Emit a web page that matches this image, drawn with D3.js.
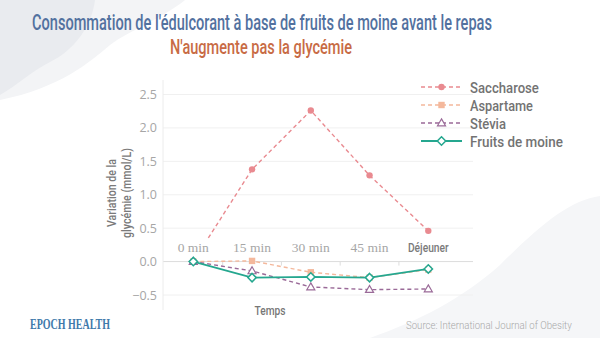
<!DOCTYPE html>
<html><head><meta charset="utf-8">
<script src="https://cdn.jsdelivr.net/npm/d3@7"></script>
<style>
html,body{margin:0;padding:0;background:#fff;}
svg{display:block;}
</style></head>
<body>
<svg id="c" width="600" height="338"></svg>
<script>
const categories = ["0 min", "15 min", "30 min", "45 min", "Déjeuner"];
const saccharose = [0, 1.38, 2.26, 1.29, 0.46];
const aspartame = [0, 0.01, -0.16, -0.24, -0.12];
const stevia = [0, -0.14, -0.38, -0.42, -0.41];
const fruitsMoine = [0, -0.24, -0.23, -0.24, -0.11];
const yTicks = [-0.5, 0.0, 0.5, 1.0, 1.5, 2.0, 2.5];
const seriesNames = ["Saccharose", "Aspartame", "Stévia", "Fruits de moine"];

const series = [
  {name: seriesNames[0], values: saccharose, color: "#e98a90", dash: "4,3", marker: "circle"},
  {name: seriesNames[1], values: aspartame, color: "#f4b89c", dash: "4,3", marker: "square"},
  {name: seriesNames[2], values: stevia, color: "#9a6a98", dash: "4,3", marker: "triangle"},
  {name: seriesNames[3], values: fruitsMoine, color: "#25a78f", dash: null, marker: "diamond"}
];

const svg = d3.select("#c");
const condensed = "'Roboto', 'DejaVu Sans Condensed', sans-serif";

function fitWidth(sel, cx, cy, target, rotate) {
  sel.each(function() {
    const w = this.getComputedTextLength();
    const k = target / w;
    d3.select(this).attr("transform",
      `translate(${cx},${cy})` + (rotate ? ` rotate(${rotate})` : "") + ` scale(${k},1)`);
  });
  return sel;
}
function squeeze(sel, cx, cy, factor, rotate) {
  sel.each(function() {
    const w = this.getComputedTextLength();
    fitWidth(d3.select(this), cx, cy, w * factor, rotate);
  });
  return sel;
}

// background blobs
svg.append("path").attr("d", "M0,0 L185,0 C160,20 130,30 110,45 C90,62 60,88 0,100 Z").attr("fill", "#f3f4f6");
svg.append("path").attr("d", "M0,0 L95,0 C92,25 75,50 50,62 C30,72 18,85 0,95 Z").attr("fill", "#e9ebef");
svg.append("path").attr("d", "M370,338 C420,320 460,300 500,265 C540,225 570,200 600,196 L600,338 Z").attr("fill", "#f5f6f8");

// titles
fitWidth(svg.append("text").attr("text-anchor", "middle")
  .attr("font-family", condensed).attr("font-size", 22).attr("font-weight", 500)
  .attr("fill", "#52719f")
  .text("Consommation de l'édulcorant à base de fruits de moine avant le repas"), 262, 30, 460);
fitWidth(svg.append("text").attr("text-anchor", "middle")
  .attr("font-family", condensed).attr("font-size", 19.5).attr("font-weight", 500)
  .attr("fill", "#c86b45")
  .text("N'augmente pas la glycémie"), 261, 54, 182);

const x = d3.scalePoint().domain(categories).range([193.3, 428.3]);
const y = d3.scaleLinear().domain([-0.5, 2.5]).range([295, 94.5]);
const plotLeft = 163, plotRight = 473;

// gridlines
svg.append("g").selectAll("line").data(yTicks).join("line")
  .attr("x1", plotLeft).attr("x2", plotRight)
  .attr("y1", d => y(d)).attr("y2", d => y(d))
  .attr("stroke", d => d === 0 ? "#dcdcdc" : "#f0f0f0").attr("stroke-width", 1);

// left axis line
svg.append("line").attr("x1", plotLeft).attr("x2", plotLeft).attr("y1", 80).attr("y2", 310)
  .attr("stroke", "#ececec");

// y tick labels
svg.append("g").selectAll("text").data(yTicks).join("text")
  .attr("x", 157).attr("y", d => y(d) + 4.5).attr("text-anchor", "end")
  .attr("font-family", "'Open Sans', sans-serif").attr("font-size", 12.5)
  .attr("fill", "#a6a6a6").text(d => d3.format(".1f")(d));

// small ticks at band boundaries on zero line
const step = x.step();
svg.append("g").selectAll("line").data(categories.slice(0, -1)).join("line")
  .attr("x1", d => x(d) + step / 2).attr("x2", d => x(d) + step / 2)
  .attr("y1", y(0)).attr("y2", y(0) + 4).attr("stroke", "#dddddd");

// y axis title
squeeze(svg.append("text")
  .attr("text-anchor", "middle").attr("font-family", condensed).attr("font-size", 12.5)
  .attr("font-weight", 500).attr("fill", "#7a7a7a").text("Variation de la"), 116, 193, 0.85, -90);
squeeze(svg.append("text")
  .attr("text-anchor", "middle").attr("font-family", condensed).attr("font-size", 12.5)
  .attr("font-weight", 500).attr("fill", "#7a7a7a").text("glycémie (mmol/L)"), 131, 193, 0.85, -90);

// x axis title
squeeze(svg.append("text").attr("text-anchor", "middle")
  .attr("font-family", condensed).attr("font-size", 12).attr("font-weight", 500)
  .attr("fill", "#777").text("Temps"), 270, 315, 0.85);

// markers
function drawMarker(g, type, color, cx, cy) {
  if (type === "circle") {
    g.append("circle").attr("cx", cx).attr("cy", cy).attr("r", 3.2).attr("fill", color);
  } else if (type === "square") {
    g.append("rect").attr("x", cx - 3.2).attr("y", cy - 3.2).attr("width", 6.4).attr("height", 6.4).attr("fill", color);
  } else if (type === "triangle") {
    g.append("path").attr("d", d3.symbol(d3.symbolTriangle, 28)()).attr("transform", `translate(${cx},${cy + 0.5})`)
      .attr("fill", "#fff").attr("stroke", color).attr("stroke-width", 1.2);
  } else {
    g.append("path").attr("d", `M0,-4.2L4.2,0L0,4.2L-4.2,0Z`).attr("transform", `translate(${cx},${cy})`)
      .attr("fill", "#fff").attr("stroke", color).attr("stroke-width", 1.5);
  }
}

const line = d3.line().x((d, i) => x(categories[i])).y(d => y(d));
const markerLayer = [];
// draw order: aspartame, stevia, saccharose, monk fruit
[1, 2, 0, 3].forEach(si => {
  const s = series[si];
  const g = svg.append("g");
  g.append("path").attr("d", line(s.values)).attr("fill", "none")
    .attr("stroke", s.color).attr("stroke-width", s.dash ? 1.4 : 1.8)
    .attr("stroke-dasharray", s.dash);
  markerLayer.push({g, s, si});
});

// category labels with white backgrounds (hide lines behind them)
const catG = svg.append("g");
categories.forEach(c => {
  const t = catG.append("text")
    .attr("text-anchor", "middle")
    .attr("font-family", c === "Déjeuner" ? condensed : "'Liberation Serif', serif")
    .attr("font-weight", c === "Déjeuner" ? 500 : "normal")
    .attr("font-size", c === "Déjeuner" ? 12.5 : 13.5)
    .attr("fill", c === "Déjeuner" ? "#7a7a7a" : "#a6a6a6")
    .text(c);
  let w;
  if (c === "Déjeuner") { squeeze(t, x(c), 252, 0.82); w = t.node().getComputedTextLength() * 0.82; }
  else { t.attr("x", x(c)).attr("y", 252); w = t.node().getComputedTextLength(); }
  catG.insert("rect", "text").attr("x", x(c) - w / 2 - 3).attr("y", 240).attr("width", w + 6).attr("height", 16)
    .attr("fill", "#fff");
});

// markers on top
markerLayer.forEach(({g, s, si}) => {
  const mg = svg.append("g");
  s.values.forEach((v, i) => {
    if (si === 0 && i === 0) return;
    drawMarker(mg, s.marker, s.color, x(categories[i]), y(v));
  });
});

// legend
const legendY = [87, 105, 123, 141];
const legendWidths = [69, 63, 36, 93];
series.forEach((s, i) => {
  const g = svg.append("g");
  const ly = legendY[i];
  g.append("line").attr("x1", 421).attr("x2", 462).attr("y1", ly).attr("y2", ly)
    .attr("stroke", s.color).attr("stroke-width", s.dash ? 1.4 : 1.8).attr("stroke-dasharray", s.dash);
  drawMarker(g, s.marker, s.color, 441.5, ly);
  fitWidth(g.append("text").attr("font-family", condensed)
    .attr("font-size", 15.5).attr("font-weight", 500).attr("fill", "#737373").text(s.name),
    470, ly + 5.5, legendWidths[i]);
});

// footer
fitWidth(svg.append("text").attr("font-family", "'Liberation Serif', serif")
  .attr("font-size", 14).attr("font-weight", "bold").attr("fill", "#3f7aab")
  .text("EPOCH HEALTH"), 30, 329, 80);
fitWidth(svg.append("text").attr("font-family", condensed)
  .attr("font-size", 10.5).attr("font-weight", 300).attr("fill", "#a8a8a8")
  .text("Source: International Journal of Obesity"), 406, 329, 166);
</script>
</body></html>
